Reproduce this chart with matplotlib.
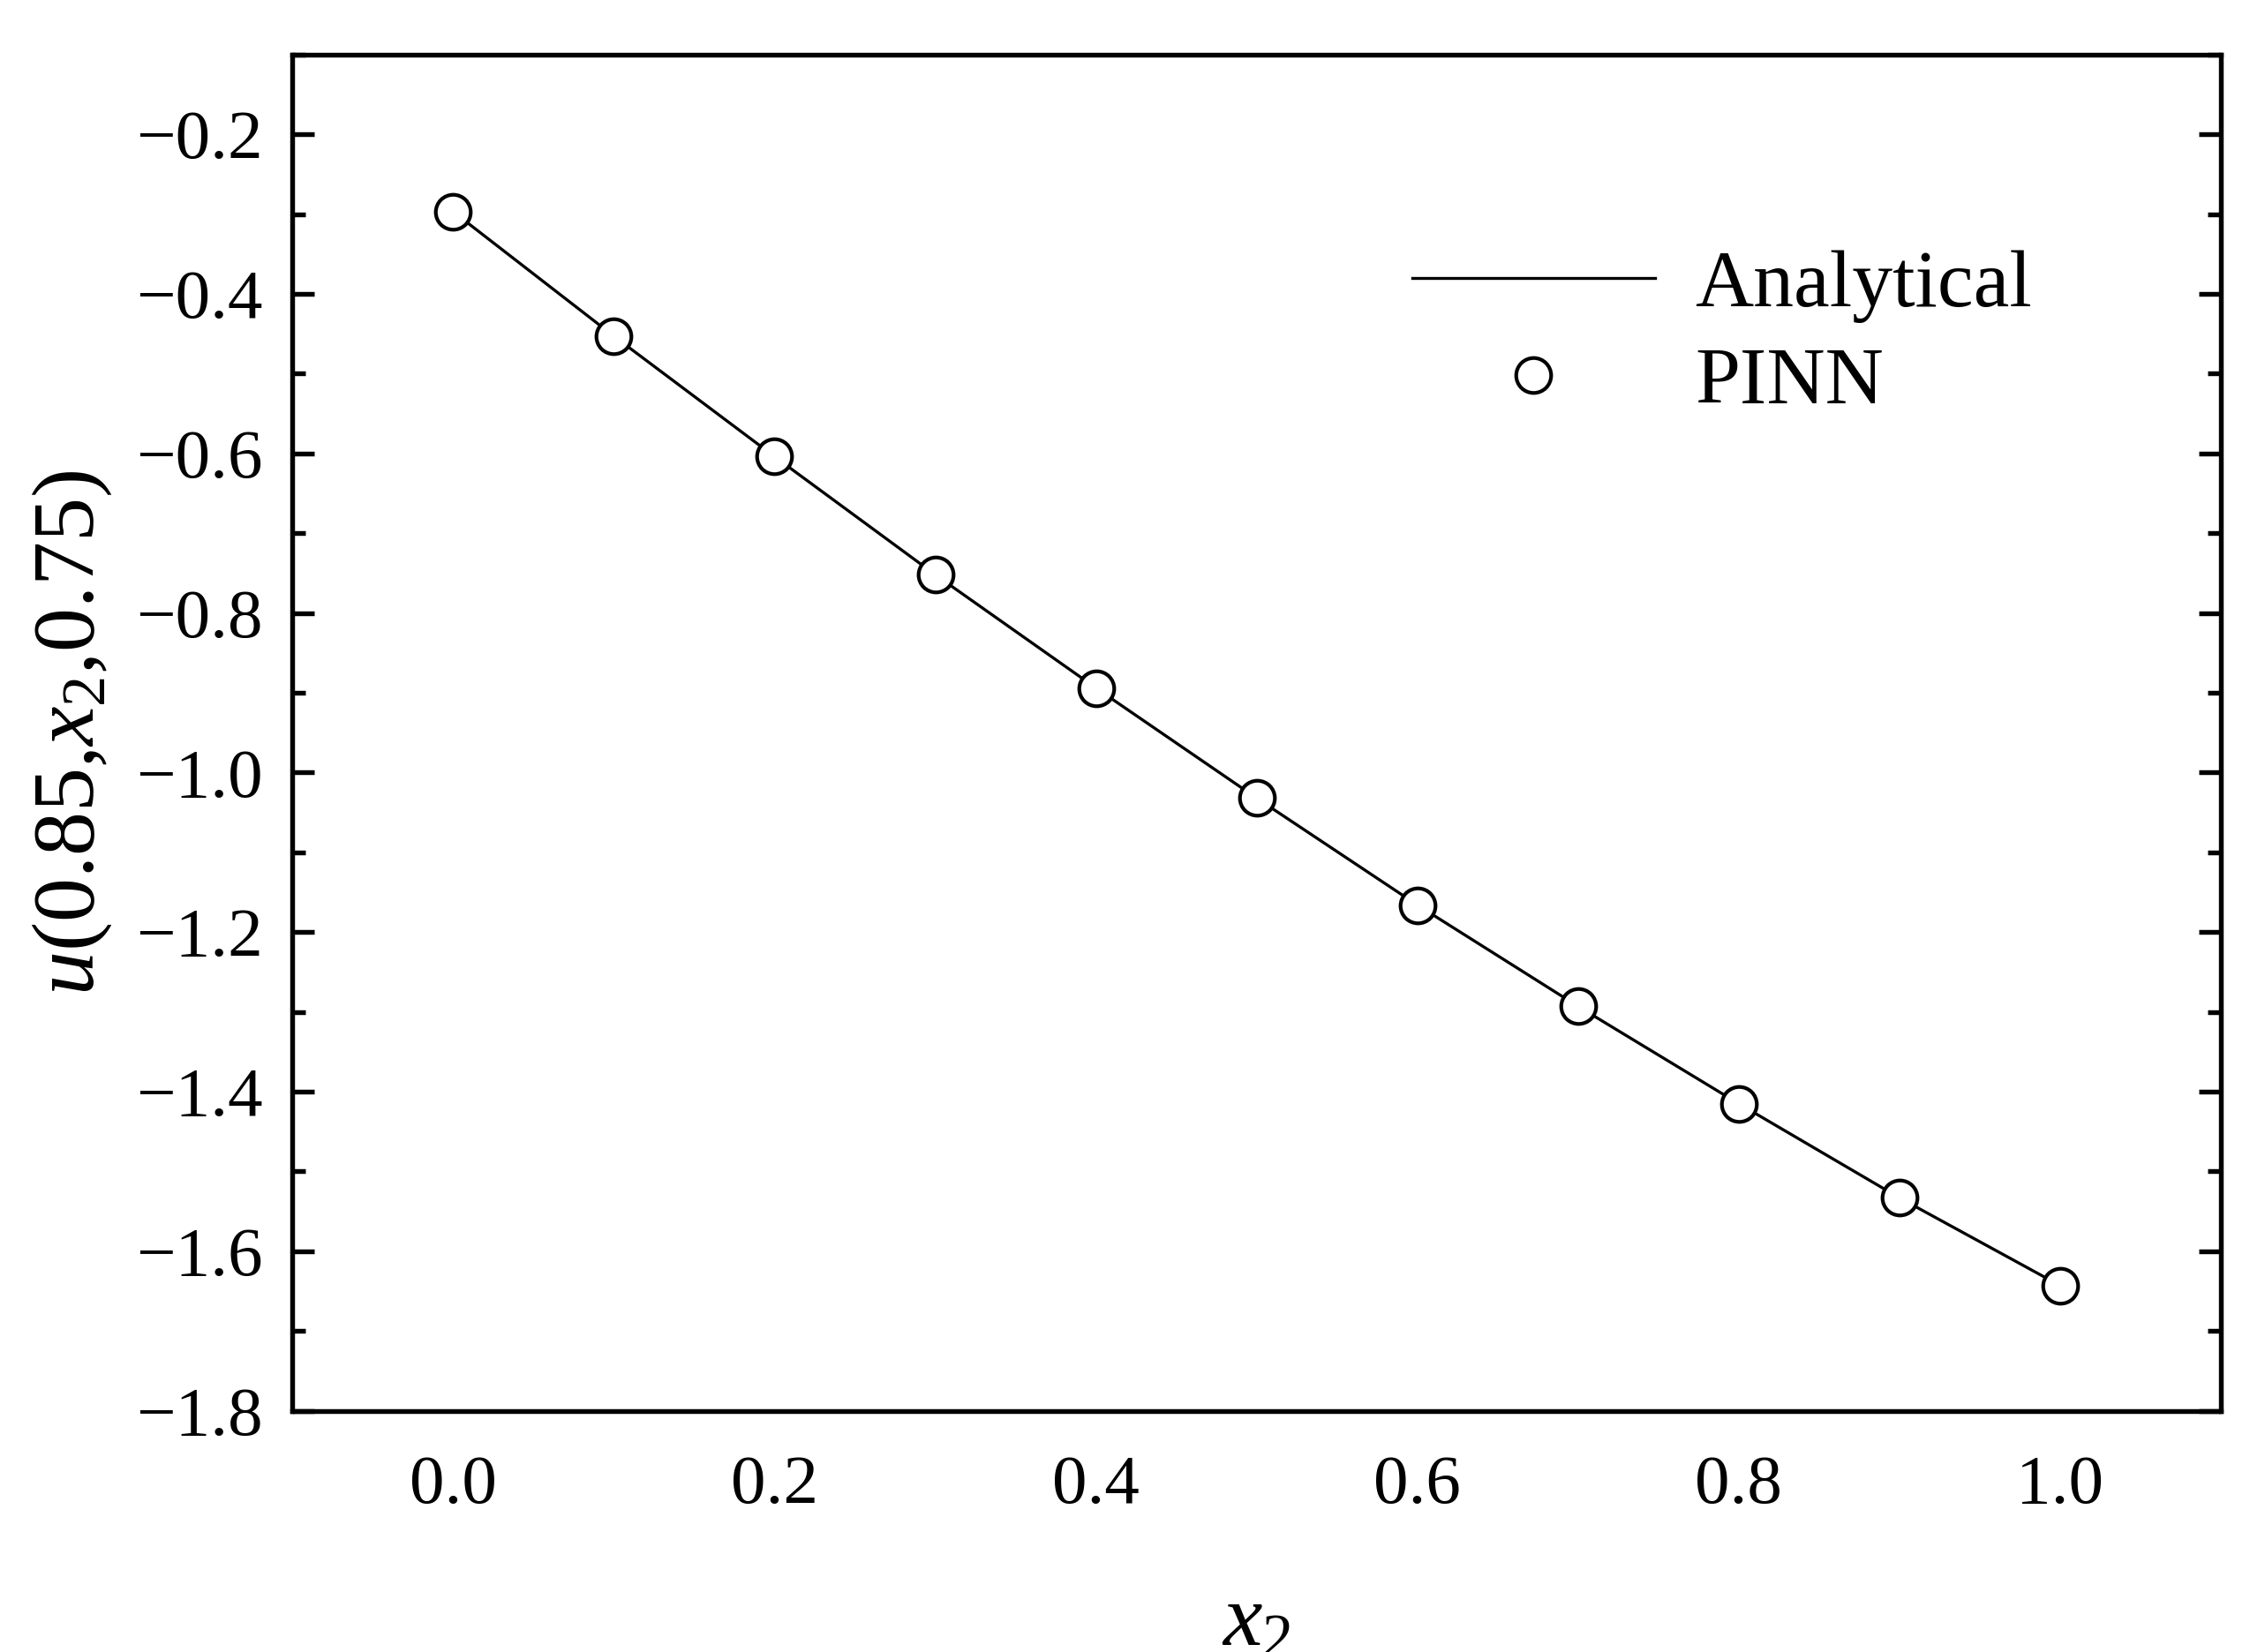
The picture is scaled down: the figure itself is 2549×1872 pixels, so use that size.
import matplotlib.pyplot as plt
import numpy as np

plt.rcParams['font.family'] = 'Liberation Serif'
plt.rcParams['mathtext.fontset'] = 'custom'
plt.rcParams['mathtext.rm'] = 'Liberation Serif'
plt.rcParams['mathtext.it'] = 'Liberation Serif:italic'

x2 = [0.0, 0.1, 0.2, 0.3, 0.4, 0.5, 0.6, 0.7, 0.8, 0.9, 1.0]
u_analytical = [-0.297, -0.453, -0.604, -0.752, -0.894, -1.032, -1.166, -1.293, -1.415, -1.533, -1.643]
u_pinn = [-0.297, -0.453, -0.604, -0.752, -0.894, -1.032, -1.166, -1.293, -1.415, -1.533, -1.643]

fig = plt.figure(figsize=(2549 / 300, 1872 / 300), dpi=300)
ax = fig.add_axes([0.130, 0.146, 0.857, 0.821])

ax.plot(x2, u_analytical, color='black', lw=0.8, label='Analytical')
ax.plot(x2, u_pinn, 'o', mfc='white', mec='black', ms=9.5, mew=1.0, label='PINN')

ax.set_xlim(-0.1, 1.1)
ax.set_ylim(-1.8, -0.1)
ax.set_xticks(np.arange(0, 1.01, 0.2))
ax.set_yticks(np.arange(-1.8, -0.19, 0.2))
ax.set_yticks(np.arange(-1.7, -0.09, 0.2), minor=True)
ax.xaxis.set_major_formatter(plt.FuncFormatter(lambda v, p: f'{v:.1f}'))
ax.yaxis.set_major_formatter(plt.FuncFormatter(lambda v, p: f'\u2212{abs(v):.1f}'))
ax.tick_params(which='both', direction='in', right=True, top=False, labelsize=19, width=1.3)
ax.tick_params(which='major', length=6, pad=8)
ax.tick_params(which='minor', length=3.5)
ax.tick_params(axis='x', bottom=False, pad=12)
for s in ax.spines.values():
    s.set_linewidth(1.3)

ax.set_xlabel(r'$x_2$', fontsize=24, labelpad=18)
ax.set_ylabel(r'$u$(0.85,$x_2$,0.75)', fontsize=24, labelpad=6)

ax.legend(loc='upper right', bbox_to_anchor=(0.94, 0.91), frameon=False, fontsize=22,
          handlelength=3.0, handletextpad=0.5, labelspacing=0.3)

fig.savefig('out.png', dpi=300)
